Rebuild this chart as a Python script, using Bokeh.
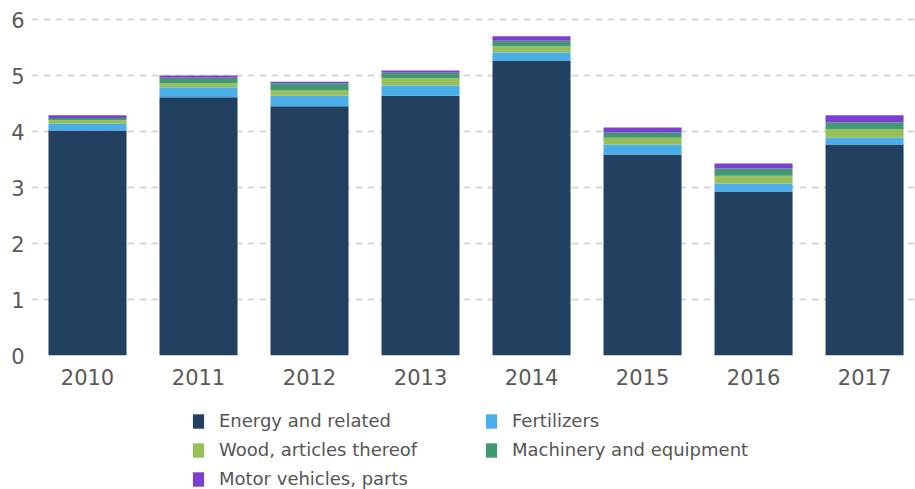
from bokeh.plotting import figure
from bokeh.layouts import column
from bokeh.models import ColumnDataSource, Legend, LegendItem, FixedTicker, Range1d
from bokeh.embed import file_html
from bokeh.resources import INLINE

years = ["2010", "2011", "2012", "2013", "2014", "2015", "2016", "2017"]
energy = [4.02, 4.61, 4.45, 4.64, 5.27, 3.59, 2.93, 3.77]
fertilizers = [0.12, 0.18, 0.19, 0.18, 0.14, 0.18, 0.14, 0.12]
wood = [0.06, 0.07, 0.09, 0.13, 0.11, 0.12, 0.14, 0.15]
machinery = [0.04, 0.10, 0.13, 0.10, 0.10, 0.09, 0.13, 0.12]
motor = [0.05, 0.04, 0.03, 0.04, 0.08, 0.09, 0.09, 0.13]

series = ["Energy and related", "Fertilizers", "Wood, articles thereof",
          "Machinery and equipment", "Motor vehicles, parts"]
keys = ["energy", "fertilizers", "wood", "machinery", "motor"]
colors = ["#22405f", "#4aaeea", "#98bf5a", "#429870", "#7b40cf"]

source = ColumnDataSource(dict(
    x=list(range(len(years))), energy=energy, fertilizers=fertilizers,
    wood=wood, machinery=machinery, motor=motor))

FONT = "DejaVu Sans"

p = figure(width=915, height=400, output_backend="svg", toolbar_location=None,
           x_range=Range1d(-0.5045, 7.459), y_range=Range1d(0, 6.125),
           min_border_left=31, min_border_right=0, min_border_top=12, min_border_bottom=45,
           outline_line_color=None)

p.vbar_stack(keys, x="x", width=0.703, source=source, color=colors, line_color=None)

p.xgrid.grid_line_color = None
p.ygrid.grid_line_color = "#d9d9d9"
p.ygrid.grid_line_width = 2
p.ygrid.grid_line_dash = "7 5"
p.yaxis.ticker = FixedTicker(ticks=[0, 1, 2, 3, 4, 5, 6])
p.xaxis.ticker = FixedTicker(ticks=list(range(len(years))))
p.xaxis.major_label_overrides = {i: y for i, y in enumerate(years)}
for ax in (p.xaxis, p.yaxis):
    ax.axis_line_color = None
    ax.major_tick_line_color = None
    ax.minor_tick_line_color = None
    ax.major_tick_out = 0
    ax.major_tick_in = 0
    ax.major_label_text_font = FONT
    ax.major_label_text_font_size = "21px"
    ax.major_label_text_color = "#595959"
p.yaxis.major_label_standoff = 7
p.xaxis.major_label_standoff = 13

# legend panel below the chart
lg = figure(width=915, height=89, output_backend="svg", toolbar_location=None,
            x_range=Range1d(100, 101), y_range=Range1d(100, 101),
            x_axis_location=None, y_axis_location=None,
            min_border_left=0, min_border_right=0, min_border_top=0, min_border_bottom=0,
            outline_line_color=None)
lg.xgrid.grid_line_color = None
lg.ygrid.grid_line_color = None
lrs = lg.vbar_stack(keys, x="x", width=0.703, source=source, color=colors, line_color=None)

items = [LegendItem(label=s, renderers=[r]) for s, r in zip(series, lrs)]
legend = Legend(items=items, ncols=2, orientation="horizontal", location=(160, 0),
                label_text_font=FONT, label_text_font_size="18px",
                label_text_color="#555555", glyph_width=14, glyph_height=18,
                label_height=20, label_width=257, label_standoff=14, spacing=8,
                padding=0, margin=0, border_line_color=None, background_fill_alpha=0)
lg.add_layout(legend, "center")

layout = column(p, lg, spacing=0)
open("out.html", "w").write(file_html(layout, INLINE))
